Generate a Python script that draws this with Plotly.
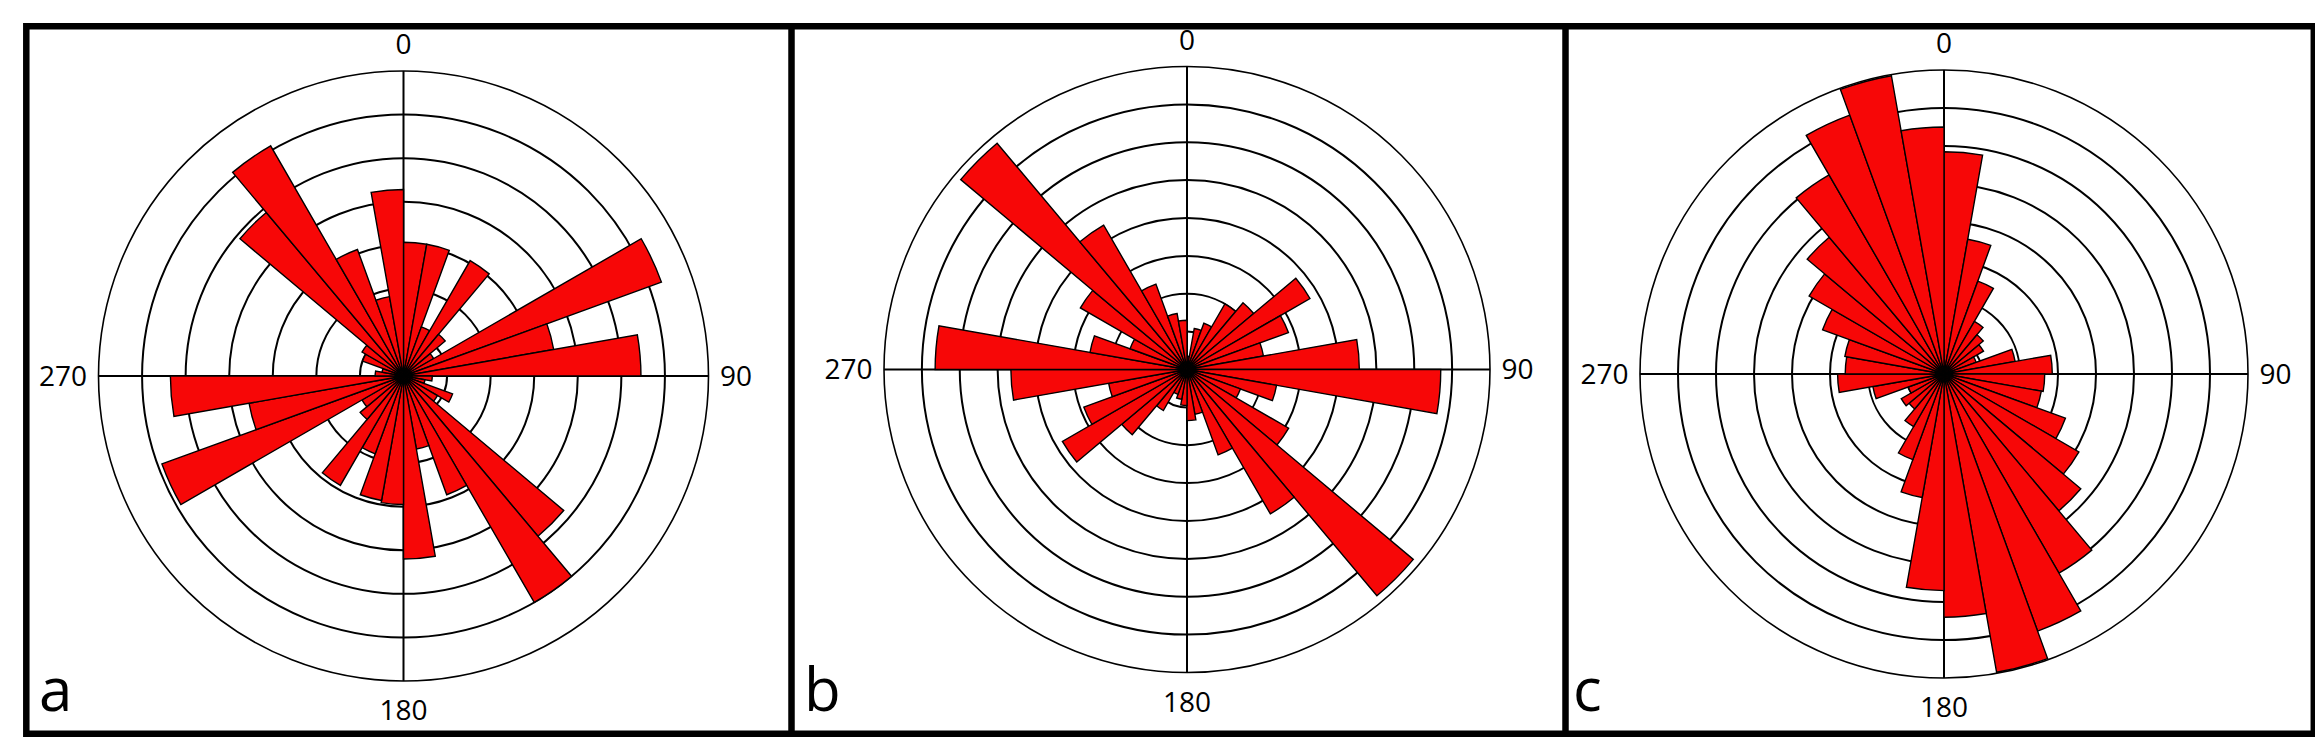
import plotly.graph_objects as go

# ---------------- data ----------------
bin_centres = list(range(5, 360, 10))          # 10-degree bins, centre angles
angle_ticks = [0, 90, 180, 270]
angle_labels = ["0", "90", "180", "270"]
panel_letters = ["a", "b", "c"]
ring_counts = [7, 8, 8]

a_vals = [3.07, 3.07, 1.2, 3.06, 1.25, 0.8, 6.3, 3.5, 5.45,
          0.66, 0.5, 1.2, 0.9, 4.8, 6.0, 2.9, 1.7, 4.2,
          2.95, 2.9, 1.9, 2.9, 1.3, 1.1, 5.9, 3.6, 5.35,
          0.65, 0.5, 1.0, 1.1, 4.9, 6.1, 3.09, 1.85, 4.28]

b_vals = [0.35, 1.1, 1.3, 2.0, 2.3, 3.75, 2.85, 2.05, 4.55,
          6.7, 2.4, 1.5, 3.1, 7.8, 4.4, 2.4, 1.2, 1.35,
          0.95, 0.8, 0.7, 1.25, 2.25, 3.8, 2.9, 2.1, 4.65,
          6.65, 2.6, 1.6, 3.25, 7.8, 4.4, 2.4, 1.5, 1.3]

c_vals = [5.85, 3.6, 2.6, 1.6, 1.35, 1.2, 0.9, 1.9, 2.85,
          2.65, 2.6, 3.4, 4.1, 4.7, 6.05, 7.2, 7.97, 6.4,
          5.7, 3.3, 2.4, 1.6, 1.2, 1.3, 1.0, 1.9, 2.8,
          2.6, 2.65, 3.4, 4.1, 4.7, 6.05, 7.25, 7.97, 6.5]

# ---------------- layout geometry (pixels) ----------------
W, H = 2323, 741
centres = [(395.5, 368.0), (1179.0, 361.5), (1936.0, 366.0)]
radii = [305.0, 303.0, 304.0]
letter_x = [29, 794, 1563]
letter_y = 680

RED = "#F70707"

fig = go.Figure()
all_vals = [a_vals, b_vals, c_vals]
layout = dict(width=W, height=H, margin=dict(l=0, r=0, t=0, b=0),
              paper_bgcolor="white", plot_bgcolor="white", showlegend=False,
              font=dict(family="Open Sans", color="black"))

for i, vals in enumerate(all_vals):
    name = "polar" if i == 0 else f"polar{i+1}"
    cx, cy = centres[i]
    r = radii[i]
    dom_x = [(cx - r) / W, (cx + r) / W]
    dom_y = [1 - (cy + r) / H, 1 - (cy - r) / H]
    n = ring_counts[i]
    fig.add_trace(go.Barpolar(
        r=vals, theta=bin_centres, width=[10] * len(bin_centres),
        marker=dict(color=RED, line=dict(color="black", width=1.4)),
        subplot=name, hoverinfo="skip"))
    layout[name] = dict(
        domain=dict(x=dom_x, y=dom_y),
        bgcolor="white",
        radialaxis=dict(range=[0, n], tickvals=list(range(1, n + 1)),
                        showticklabels=False, ticks="", showline=False,
                        gridcolor="black", gridwidth=1.5, layer="below traces"),
        angularaxis=dict(direction="clockwise", rotation=90,
                         tickvals=angle_ticks, ticktext=angle_labels,
                         ticks="outside", ticklen=5, tickcolor="rgba(0,0,0,0)",
                         showline=True, linecolor="black", linewidth=1.6,
                         gridcolor="black", gridwidth=1.5, layer="below traces",
                         tickfont=dict(size=28, family="Open Sans", color="black")),
    )

fig.update_layout(**layout)

# panel frames
lw = 6.5
def px_x(v):
    return v / W
def px_y(v):
    return 1 - v / H

shapes = []
shapes.append(dict(type="rect", xref="paper", yref="paper",
                   x0=px_x(18.3), x1=px_x(2305.8), y0=px_y(725.7), y1=px_y(18.3),
                   line=dict(color="black", width=lw)))
for xd in [783.5, 1557.5]:
    shapes.append(dict(type="line", xref="paper", yref="paper",
                       x0=px_x(xd), x1=px_x(xd), y0=px_y(725.7), y1=px_y(18.3),
                       line=dict(color="black", width=lw)))
fig.update_layout(shapes=shapes)

for i, letter in enumerate(panel_letters):
    fig.add_annotation(text=letter, xref="paper", yref="paper",
                       x=px_x(letter_x[i]), y=px_y(letter_y), xanchor="left", yanchor="middle",
                       showarrow=False, font=dict(size=60, family="Open Sans", color="black"))

fig.write_html("out.html")
